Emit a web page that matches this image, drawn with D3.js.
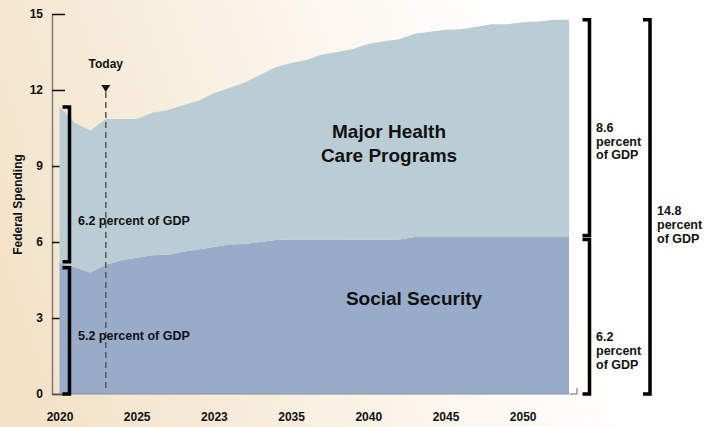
<!DOCTYPE html>
<html>
<head>
<meta charset="utf-8">
<script src="https://cdn.jsdelivr.net/npm/d3@7"></script>
<style>
  body { margin: 0; background: #fff; }
  svg { display: block; font-family: "Liberation Sans", Arial, sans-serif; font-weight: bold; }
</style>
</head>
<body>
<svg id="chart" width="713" height="427"></svg>
<script>
// values, percent of GDP
const years = [2020, 2021, 2022, 2023, 2024, 2025, 2026, 2027, 2028, 2029,
               2030, 2031, 2032, 2033, 2034, 2035, 2036, 2037, 2038, 2039,
               2040, 2041, 2042, 2043, 2044, 2045, 2046, 2047, 2048, 2049,
               2050, 2051, 2052, 2053]
const socialSecurity = [5.18, 5.0, 4.8, 5.1, 5.28, 5.38, 5.48, 5.5, 5.62, 5.7,
                        5.8, 5.9, 5.92, 6.0, 6.08, 6.1, 6.1, 6.1, 6.1, 6.1,
                        6.1, 6.1, 6.1, 6.2, 6.2, 6.2, 6.2, 6.2, 6.2, 6.2,
                        6.2, 6.2, 6.2, 6.2]
const healthCare = [6.15, 5.7, 5.6, 5.76, 5.58, 5.48, 5.62, 5.7, 5.78, 5.88,
                    6.07, 6.18, 6.38, 6.6, 6.82, 6.97, 7.08, 7.3, 7.4, 7.52,
                    7.72, 7.82, 7.9, 8.02, 8.1, 8.18, 8.2, 8.3, 8.4, 8.4,
                    8.47, 8.5, 8.57, 8.57]
const yTicks = [0, 3, 6, 9, 12, 15]
const xTicks = [2020, 2025, 2030, 2035, 2040, 2045, 2050]
const xTickLabels = ['2020', '2025', '2023', '2035', '2040', '2045', '2050']
const todayYear = 2023

const svg = d3.select('#chart')
const width = 713, height = 427

// background wash
const defs = svg.append('defs')
const grad = defs.append('linearGradient').attr('id', 'bg')
    .attr('x1', 0).attr('y1', 0.6).attr('x2', 1).attr('y2', 0.4)
grad.append('stop').attr('offset', 0).attr('stop-color', '#f3e3c9')
grad.append('stop').attr('offset', 0.45).attr('stop-color', '#faf3e8')
grad.append('stop').attr('offset', 0.78).attr('stop-color', '#ffffff')
svg.append('rect').attr('width', width).attr('height', height).attr('fill', 'url(#bg)')

const x = d3.scaleLinear().domain([2020, 2053]).range([59.5, 569])
const y = d3.scaleLinear().domain([0, 15]).range([394, 14])

const rows = years.map((yr, i) => ({year: yr, ss: socialSecurity[i], health: healthCare[i]}))
const stacked = d3.stack().keys(['ss', 'health'])(rows)
const colors = {ss: '#98acca', health: '#bacdd4'}

// y axis, ticks pointing into the plot
const yAxis = svg.append('g').attr('transform', 'translate(52,0)')
    .call(d3.axisLeft(y).tickValues(yTicks).tickSize(-13).tickSizeOuter(0).tickPadding(9))
yAxis.select('.domain').attr('stroke', '#7d7d7d').attr('stroke-width', 1.5)
yAxis.selectAll('.tick line').attr('stroke', '#111').attr('stroke-width', 1.5)
yAxis.selectAll('.tick text').attr('font-size', 12).attr('font-weight', 'bold')
    .attr('font-family', '"Liberation Sans", Arial, sans-serif').attr('fill', '#111')

// stacked areas
const area = d3.area()
    .x(d => x(d.data.year))
    .y0(d => y(d[0]))
    .y1(d => y(d[1]))
svg.append('g').selectAll('path')
    .data(stacked)
    .join('path')
    .attr('d', area)
    .attr('fill', d => colors[d.key])

// baseline
svg.append('line').attr('x1', 52).attr('x2', x(2053)).attr('y1', y(0)).attr('y2', y(0))
    .attr('stroke', '#8a8f98').attr('stroke-width', 1)
svg.append('path')
    .attr('d', `M${x(2053) + 1},${y(0)} H${x(2053) + 8} V${y(0) - 6}`)
    .attr('fill', 'none').attr('stroke', '#666').attr('stroke-width', 1)

// x axis labels
const xAxis = svg.append('g').attr('transform', `translate(0,${y(0)})`)
    .call(d3.axisBottom(x).tickValues(xTicks).tickSize(0).tickPadding(18)
        .tickFormat((d, i) => xTickLabels[i]))
xAxis.select('.domain').remove()
xAxis.selectAll('.tick text').attr('font-size', 12).attr('font-weight', 'bold')
    .attr('font-family', '"Liberation Sans", Arial, sans-serif').attr('fill', '#111')

// y axis title
svg.append('text')
    .attr('transform', 'translate(21.5,204.5) rotate(-90)')
    .attr('text-anchor', 'middle')
    .attr('font-size', 12)
    .attr('fill', '#111')
    .text('Federal Spending')

// today marker
const tx = x(todayYear)
svg.append('line').attr('x1', tx).attr('x2', tx).attr('y1', 92).attr('y2', 390)
    .attr('stroke', '#555').attr('stroke-width', 1.5).attr('stroke-dasharray', '6,4')
svg.append('path').attr('d', `M${tx - 4.5},85 L${tx + 4.5},85 L${tx},92 Z`).attr('fill', '#111')
svg.append('text').attr('x', tx).attr('y', 67.5).attr('text-anchor', 'middle')
    .attr('font-size', 12).attr('fill', '#111').text('Today')

// brackets
function bracket(bx, y1, y2) {
    svg.append('path')
        .attr('d', `M${bx - 7},${y1} H${bx} V${y2} H${bx - 7}`)
        .attr('fill', 'none').attr('stroke', '#000').attr('stroke-width', 3.5)
}
const first = rows[0], last = rows[rows.length - 1]
bracket(69.5, y(first.ss + first.health), y(first.ss) - 1)
bracket(69.5, y(first.ss) + 5, y(0))
bracket(589.5, y(last.ss + last.health), y(last.ss) - 1.5)
bracket(589.5, y(last.ss) + 2.5, y(0))
bracket(650, y(last.ss + last.health), y(0))

// annotations
function label(lines, lx, ly, size, anchor, lh) {
    const t = svg.append('text').attr('x', lx).attr('y', ly)
        .attr('font-size', size).attr('fill', '#111').attr('text-anchor', anchor)
    lines.forEach((s, i) => t.append('tspan').attr('x', lx).attr('dy', i ? lh : 0).text(s))
}
label(['6.2 percent of GDP'], 78, 225, 12.5, 'start', 0)
label(['5.2 percent of GDP'], 78, 340, 12.5, 'start', 0)
label(['8.6', 'percent', 'of GDP'], 596, 132, 12.5, 'start', 13.5)
label(['14.8', 'percent', 'of GDP'], 657, 214.5, 12.5, 'start', 14)
label(['6.2', 'percent', 'of GDP'], 596, 340.5, 12.5, 'start', 14)
label(['Major Health', 'Care Programs'], 389, 138, 19, 'middle', 23.5)
label(['Social Security'], 414, 305, 19, 'middle', 0)
</script>
</body>
</html>
